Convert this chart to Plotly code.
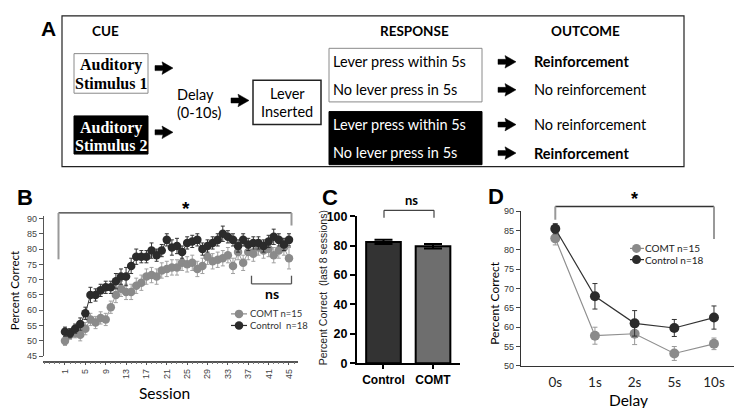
import plotly.graph_objects as go

W, H = 742, 408

# ---------------- data ----------------
sessions = list(range(1, 46))
control_b = [53, 52.5, 54, 55.5, 59, 65, 65, 66.5, 67.5, 67.5, 69.5, 71, 71, 74.5, 77.5,
             77.5, 77.5, 79.5, 78, 79.5, 83, 80.5, 81, 79, 82, 82.5, 83, 80, 81, 82,
             83, 85, 84, 83, 81, 83, 81.5, 82, 82, 81, 82.5, 84, 83, 81.5, 83]
control_b_err = [1.5, 1.5, 1.5, 2, 2, 2.5, 2, 2, 2, 2, 2.5, 2.5, 3, 2.5, 2.5,
                 2, 2, 2.5, 2, 2, 2, 2.5, 2.5, 2, 2, 2, 2, 2, 2, 2,
                 2, 2.5, 2, 2, 2, 2, 2, 2, 2, 2, 2, 2.5, 2, 2, 2]
comt_b = [50, 52, 52.5, 52, 54, 57, 56, 57.5, 57, 61, 65, 67, 66, 66, 68,
          69, 71, 71.5, 71, 73, 73.5, 74, 74, 75.5, 75, 75.5, 73.5, 74.5, 77.5, 76,
          76.5, 77, 78, 74.5, 79, 75.5, 79, 78.5, 80.5, 79.5, 80, 78, 79.5, 80.5, 77]
comt_b_err = [1.5, 1.5, 1.5, 2, 2, 2, 2, 2, 2, 2, 2.5, 2.5, 2.5, 2.5, 2.5,
              2.5, 2.5, 2.5, 2.5, 2.5, 2.5, 2.5, 2.5, 2.5, 2.5, 2.5, 2.5, 2.5, 2.5, 2.5,
              2.5, 2.5, 2.5, 2.5, 2.5, 2.5, 2.5, 2.5, 2.5, 2.5, 2.5, 2.5, 2.5, 2.5, 3.5]
b_ticks = list(range(1, 46, 4))
b_yticks = list(range(45, 91, 5))

c_groups = ["Control", "COMT"]
c_values = [82.5, 79.5]
c_err = [1.5, 1.5]
c_yticks = [0, 20, 40, 60, 80, 100]

d_delays = ["0s", "1s", "2s", "5s", "10s"]
d_control = [85.5, 68, 61, 59.8, 62.5]
d_control_err = [1.3, 3.3, 3.3, 2.2, 3]
d_comt = [83, 57.8, 58.3, 53.2, 55.7]
d_comt_err = [1.7, 2.2, 2.8, 1.8, 1.5]
d_yticks = list(range(50, 91, 5))

SANS = "Lato"
ARIAL = "Liberation Sans"
SERIF = "Liberation Serif"
DARK = "#2b2b2b"
GRAY = "#8a8a8a"
LEFT_FIX = 4  # observed offset of left-anchored annotation text


def X(px):
    return px / W


def Y(py):
    return 1 - py / H


fig = go.Figure()

# ---------------- panel B ----------------
fig.add_trace(go.Scatter(
    x=sessions, y=comt_b, mode="lines+markers", xaxis="x", yaxis="y",
    line=dict(color="#9a9a9a", width=1),
    marker=dict(color=GRAY, size=8.5),
    error_y=dict(type="data", array=comt_b_err, color="#a0a0a0", thickness=1, width=2),
    showlegend=False))
fig.add_trace(go.Scatter(
    x=sessions, y=control_b, mode="lines+markers", xaxis="x", yaxis="y",
    line=dict(color="#333333", width=1),
    marker=dict(color=DARK, size=8.5),
    error_y=dict(type="data", array=control_b_err, color="#333333", thickness=1, width=2),
    showlegend=False))

# ---------------- panel C ----------------
fig.add_trace(go.Bar(
    x=[0, 1], y=c_values, xaxis="x2", yaxis="y2", width=0.7,
    marker=dict(color=["#333333", "#6e6e6e"], line=dict(color="black", width=2)),
    error_y=dict(type="data", array=c_err, color="black", thickness=2, width=9),
    showlegend=False))

# ---------------- panel D ----------------
fig.add_trace(go.Scatter(
    x=list(range(len(d_delays))), y=d_comt, mode="lines+markers", xaxis="x3", yaxis="y3",
    line=dict(color="#8f8f8f", width=1.2),
    marker=dict(color=GRAY, size=10),
    error_y=dict(type="data", array=d_comt_err, color="#999999", thickness=1, width=2.5),
    showlegend=False))
fig.add_trace(go.Scatter(
    x=list(range(len(d_delays))), y=d_control, mode="lines+markers", xaxis="x3", yaxis="y3",
    line=dict(color="#333333", width=1.2),
    marker=dict(color=DARK, size=10),
    error_y=dict(type="data", array=d_control_err, color="#333333", thickness=1, width=2.5),
    showlegend=False))

shapes = []
annotations = []


def rect(x0, y0, x1, y1, fill="white", line="black", lw=1):
    shapes.append(dict(type="rect", xref="paper", yref="paper", x0=X(x0), x1=X(x1),
                       y0=Y(y0), y1=Y(y1), fillcolor=fill, line=dict(color=line, width=lw)))


def seg(x0, y0, x1, y1, color="black", lw=1):
    shapes.append(dict(type="line", xref="paper", yref="paper", x0=X(x0), x1=X(x1),
                       y0=Y(y0), y1=Y(y1), line=dict(color=color, width=lw)))


def text(x, y, s, size=14, family=SANS, color="black", bold=False, xanchor="center", angle=0):
    if bold:
        s = "<b>" + s + "</b>"
    if xanchor == "left":
        x = x - LEFT_FIX
    annotations.append(dict(xref="paper", yref="paper", x=X(x), y=Y(y), text=s,
                            showarrow=False, xanchor=xanchor, yanchor="middle",
                            align="left" if xanchor == "left" else "center",
                            textangle=angle, borderpad=0,
                            font=dict(size=size, family=family, color=color)))


def arrow(cx, cy):
    x0 = cx - 9
    pts = [(x0, cy - 2.6), (x0 + 8, cy - 2.6), (x0 + 7, cy - 6.5), (x0 + 18, cy),
           (x0 + 7, cy + 6.5), (x0 + 8, cy + 2.6), (x0, cy + 2.6)]
    path = "M " + " L ".join(f"{X(a):.5f},{Y(b):.5f}" for a, b in pts) + " Z"
    shapes.append(dict(type="path", xref="paper", yref="paper", path=path,
                       fillcolor="black", line=dict(color="black", width=0.5)))


def dot(cx, cy, color, d=9):
    shapes.append(dict(type="circle", xref="paper", yref="paper", xsizemode="pixel",
                       ysizemode="pixel", xanchor=X(cx), yanchor=Y(cy),
                       x0=-d / 2, x1=d / 2, y0=-d / 2, y1=d / 2,
                       fillcolor=color, line=dict(color=color, width=0)))


# ---------------- panel A diagram ----------------
rect(54, 1, 676, 157, fill="rgba(0,0,0,0)", line="#222", lw=1.2)
text(40, 14, "A", size=21, family=ARIAL, bold=True)
text(97, 17, "CUE", size=13.5, bold=True)
text(406, 17, "RESPONSE", size=13.5, bold=True)
text(577, 17, "OUTCOME", size=13.5, bold=True)

rect(66, 40, 140, 81, fill="white", line="#8a8a8a", lw=1)
text(103, 52, "Auditory", size=16, family=SERIF, bold=True)
text(103, 71, "Stimulus 1", size=16, family=SERIF, bold=True)
rect(66, 104.5, 140, 144, fill="black", line="black", lw=1)
text(103, 116.5, "Auditory", size=16, family=SERIF, bold=True, color="white")
text(103, 135, "Stimulus 2", size=16, family=SERIF, bold=True, color="white")
arrow(156, 55)
arrow(156, 121.5)

text(172, 82, "Delay", size=14.5, xanchor="left")
text(172, 101, "(0-10s)", size=14.5, xanchor="left")
arrow(232, 88.5)

rect(245, 67.5, 313, 113.5, fill="white", line="#222", lw=1.5)
text(279, 81, "Lever", size=14.5)
text(279, 100, "Inserted", size=14.5)

rect(321, 34.5, 474, 90, fill="white", line="#8a8a8a", lw=1)
text(328, 48.5, "Lever press within 5s", size=14.5, xanchor="left")
text(328, 77, "No lever press in 5s", size=14.5, xanchor="left")
rect(321, 100, 474, 155, fill="black", line="black", lw=1)
text(328, 113.5, "Lever press within 5s", size=14.5, xanchor="left", color="white")
text(328, 142.5, "No lever press in 5s", size=14.5, xanchor="left", color="white")

for yy in (48.5, 77.5, 113.5, 143):
    arrow(499, yy)
text(529, 48.5, "Reinforcement", size=14.5, bold=True, xanchor="left")
text(529, 77.5, "No reinforcement", size=14.5, xanchor="left")
text(529, 113.5, "No reinforcement", size=14.5, xanchor="left")
text(529, 143, "Reinforcement", size=14.5, bold=True, xanchor="left")

# ---------------- panel B decorations ----------------
text(17, 189, "B", size=22, family=ARIAL, bold=True)
seg(50.5, 205, 283.5, 205, color="#333", lw=1.3)
seg(50.5, 205, 50.5, 253, color="#999", lw=2)
seg(283.5, 205, 283.5, 218, color="#999", lw=2)
text(178, 200, "*", size=19, family=ARIAL, bold=True)
seg(243.5, 270, 243.5, 278.5, color="#555", lw=1.3)
seg(243.5, 278.5, 283.5, 278.5, color="#555", lw=1.3)
seg(283.5, 270, 283.5, 278.5, color="#555", lw=1.3)
text(264, 288.5, "ns", size=14, bold=True)
text(6, 286, "Percent Correct", size=11.5, angle=-90)
text(156, 391, "Session", size=15.5)
# legend B
for yy, col, lab in ((309.5, GRAY, "COMT n=15"), (321.5, DARK, "Control  n=18")):
    seg(223, yy, 239, yy, color=col, lw=1.2)
    dot(231, yy, col, 8.5)
    text(245, yy, lab, size=9.5, xanchor="left", color="#333")

# ---------------- panel C decorations ----------------
text(322, 188.5, "C", size=22, family=ARIAL, bold=True)
seg(376, 210, 376, 202.3, color="#444", lw=1.2)
seg(376, 202.3, 426, 202.3, color="#444", lw=1.2)
seg(426, 202.3, 426, 210, color="#444", lw=1.2)
text(403, 192, "ns", size=13, bold=True)
text(315, 283, "Percent Correct  (last 8 sessions)", size=10.5, family=ARIAL, color="#222",
     angle=-90)

# ---------------- panel D decorations ----------------
text(488, 188, "D", size=22, family=ARIAL, bold=True)
seg(547.3, 198.3, 706, 198.3, color="#333", lw=1.3)
seg(547.3, 198.3, 547.3, 212, color="#999", lw=2)
seg(706, 198.3, 706, 232, color="#999", lw=2)
text(626, 191, "*", size=18, family=ARIAL, bold=True)
text(487, 298, "Percent Correct", size=12, angle=-90)
text(620, 398.5, "Delay", size=15.5)
for yy, col, lab in ((241.7, GRAY, "COMT n=15"), (253.3, DARK, "Control n=18")):
    seg(622, yy, 636, yy, color=col, lw=1.2)
    dot(628.5, yy, col, 9)
    text(640, yy, lab, size=10, xanchor="left", color="#222")

fig.update_layout(
    width=W, height=H, margin=dict(l=0, r=0, t=0, b=0),
    paper_bgcolor="white", plot_bgcolor="rgba(0,0,0,0)",
    shapes=shapes, annotations=annotations, showlegend=False,
    xaxis=dict(domain=[X(35), X(290)], range=[-3.32, 46.77], anchor="free", position=Y(359),
               tickmode="array", tickvals=b_ticks, ticktext=[str(t) for t in b_ticks],
               tickangle=-90, ticks="outside", ticklen=3, tickcolor="#555",
               minor=dict(dtick=1, tick0=1, ticks="outside", ticklen=2, tickcolor="#777"),
               showline=True, linecolor="#555", linewidth=1.5, showgrid=False, zeroline=False,
               tickfont=dict(size=9, family=ARIAL, color="#444")),
    yaxis=dict(domain=[Y(353.3), Y(208.3)], range=[45, 90.75], anchor="free", position=X(35),
               tickmode="array", tickvals=b_yticks, ticks="outside", ticklen=4, tickcolor="#555",
               showline=True, linecolor="#555", linewidth=1.3, showgrid=False, zeroline=False,
               tickfont=dict(size=9, family=ARIAL, color="#444")),
    xaxis2=dict(domain=[X(349), X(452)], range=[-0.535, 1.545], anchor="y2",
                tickmode="array", tickvals=[0, 1], ticktext=c_groups,
                ticks="outside", ticklen=4, tickwidth=1.5, tickcolor="black",
                showline=True, linecolor="black", linewidth=2, showgrid=False, zeroline=False,
                tickfont=dict(size=12, family=ARIAL, color="black", weight="bold")),
    yaxis2=dict(domain=[Y(360.7), Y(208.3)], range=[0, 100], anchor="x2",
                tickmode="array", tickvals=c_yticks, ticks="outside", ticklen=5, tickwidth=2,
                tickcolor="black", showline=True, linecolor="black", linewidth=2,
                showgrid=False, zeroline=False,
                tickfont=dict(size=12.5, family=ARIAL, color="black", weight="bold")),
    xaxis3=dict(domain=[X(513), X(727)], range=[-0.864, 4.53], anchor="y3",
                tickmode="array", tickvals=list(range(len(d_delays))), ticktext=d_delays,
                ticks="", showline=True, linecolor="#333", linewidth=1.2, showgrid=False,
                zeroline=False, ticklabelstandoff=4,
                tickfont=dict(size=13.5, family=SANS, color="#222")),
    yaxis3=dict(domain=[Y(363.3), Y(203.3)], range=[50, 90], anchor="x3",
                tickmode="array", tickvals=d_yticks, ticks="outside", ticklen=4, tickcolor="#444",
                showline=True, linecolor="#333", linewidth=1.2, showgrid=False, zeroline=False,
                tickfont=dict(size=9, family=ARIAL, color="#333")),
)

fig.write_html("out.html")
